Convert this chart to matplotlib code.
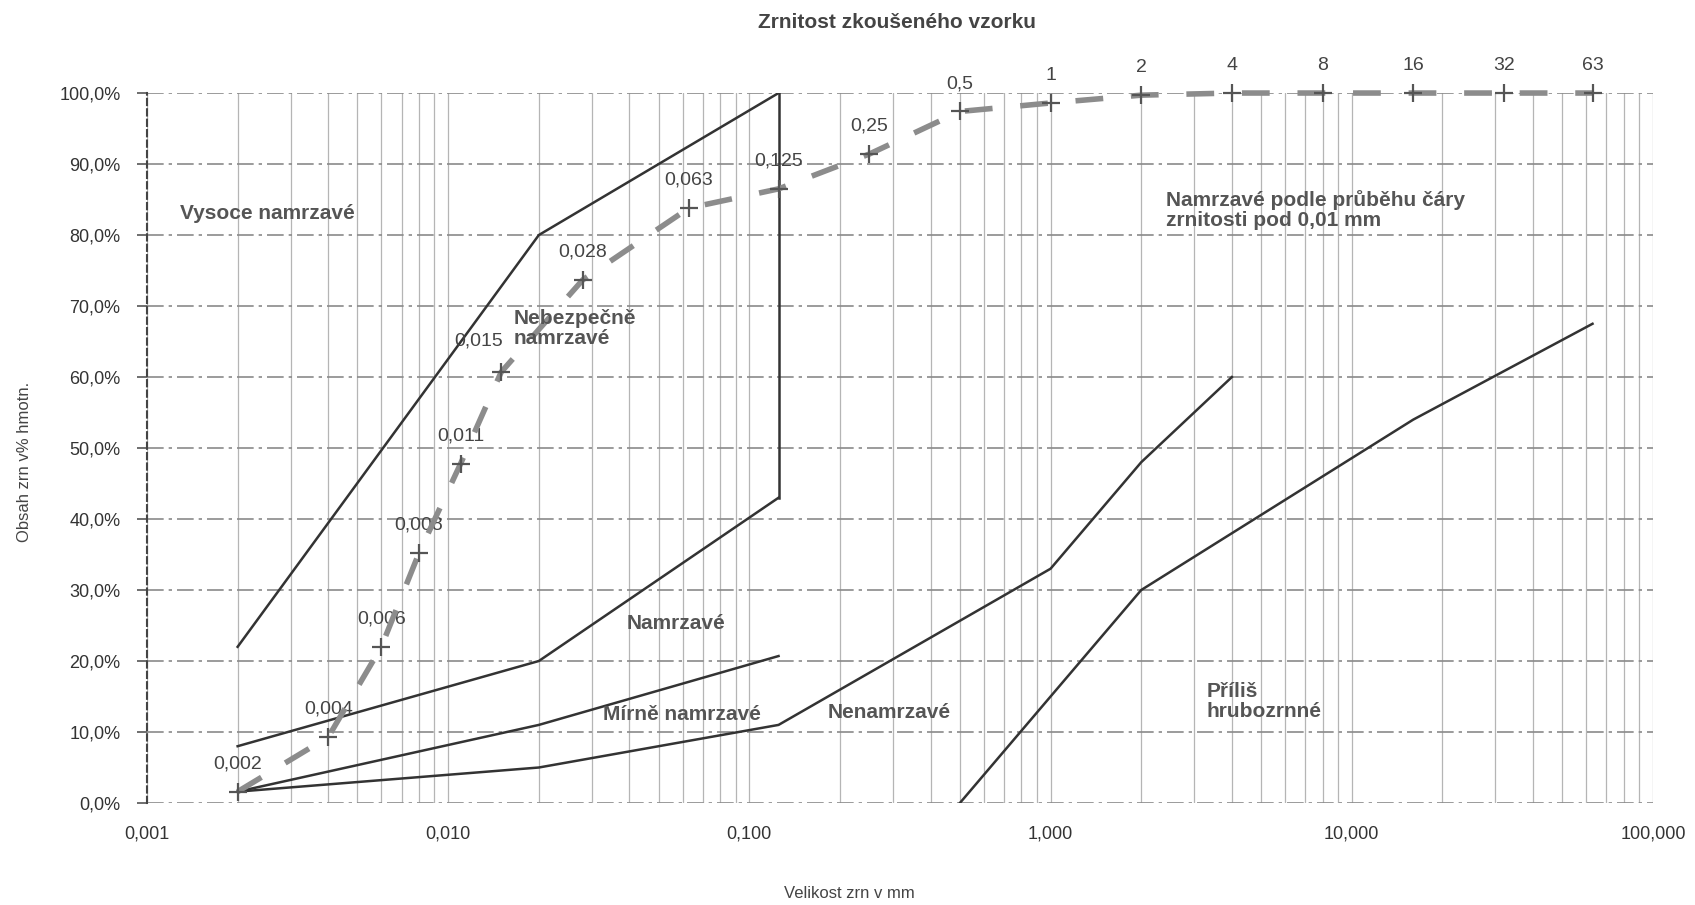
import numpy as np
import matplotlib.pyplot as plt
from matplotlib.ticker import FixedLocator, FuncFormatter, LogLocator, NullFormatter

plt.rcParams['font.family'] = ['Liberation Sans', 'DejaVu Sans']

# hranice oblasti namrzavosti (velikost zrn v mm, obsah v %)
vysoce_x = [0.002, 0.02, 0.125]
vysoce_y = [22, 80, 100]
svisla_x = [0.125, 0.125]
svisla_y = [43, 100]
nebezpecne_x = [0.002, 0.02, 0.125]
nebezpecne_y = [8, 20, 43]
namrzave_x = [0.002, 0.02, 0.125]
namrzave_y = [1.6, 11, 20.7]
mirne_x = [0.002, 0.02, 0.125, 1, 2, 4]
mirne_y = [1.6, 5, 11, 33, 48, 60]
hrubo_x = [0.5, 1, 2, 16, 63]
hrubo_y = [0, 15, 30, 54, 67.5]

# krivka zrnitosti zkouseneho vzorku
zrna = [0.002, 0.004, 0.006, 0.008, 0.011, 0.015, 0.028, 0.063, 0.125,
        0.25, 0.5, 1, 2, 4, 8, 16, 32, 63]
propad = [1.6, 9.3, 22.0, 35.2, 47.8, 60.7, 73.7, 83.8, 86.5,
          91.4, 97.4, 98.6, 99.7, 100, 100, 100, 100, 100]
popisky = ['0,002', '0,004', '0,006', '0,008', '0,011', '0,015', '0,028', '0,063', '0,125',
           '0,25', '0,5', '1', '2', '4', '8', '16', '32', '63']

x_ticks = [0.001, 0.01, 0.1, 1, 10, 100]
x_labels = ['0,001', '0,010', '0,100', '1,000', '10,000', '100,000']
y_ticks = np.arange(0, 101, 10)

fig = plt.figure(figsize=(16.95, 9.05), dpi=100)
ax = fig.add_axes([0.0867, 0.1127, 0.8885, 0.7845])
ax.set_xscale('log')
ax.set_xlim(0.001, 100)
ax.set_ylim(0, 100)

ax.xaxis.set_major_locator(FixedLocator(x_ticks))
ax.xaxis.set_major_formatter(FuncFormatter(lambda v, p: x_labels[x_ticks.index(v)] if v in x_ticks else ''))
ax.xaxis.set_minor_locator(LogLocator(base=10, subs=np.arange(2, 10)))
ax.xaxis.set_minor_formatter(NullFormatter())
ax.yaxis.set_major_locator(FixedLocator(y_ticks))
ax.yaxis.set_major_formatter(FuncFormatter(lambda v, p: ('%.1f%%' % v).replace('.', ',')))

ax.tick_params(axis='x', which='both', length=0, pad=16, labelsize=13, labelcolor='#333')
ax.tick_params(axis='y', length=7, width=1.2, color='#555', pad=12, labelsize=13, labelcolor='#333')

ax.grid(True, axis='x', which='both', color='#b5b5b5', lw=0.9)
ax.grid(True, axis='y', which='major', color='#8a8a8a', lw=1.2, ls=(0, (10, 3, 2, 3)))
for s in ['top', 'right', 'bottom']:
    ax.spines[s].set_visible(False)
ax.spines['left'].set_linestyle((0, (3, 2)))
ax.spines['left'].set_color('#444')
ax.spines['left'].set_linewidth(1.5)

# hranice
for xs, ys in [(vysoce_x, vysoce_y), (svisla_x, svisla_y), (nebezpecne_x, nebezpecne_y),
               (namrzave_x, namrzave_y), (mirne_x, mirne_y), (hrubo_x, hrubo_y)]:
    ax.plot(xs, ys, color='#333', lw=1.8, zorder=3)

# krivka vzorku
ax.plot(zrna, propad, color='#8c8c8c', lw=4, ls=(0, (5, 5)), zorder=4, clip_on=False)
ax.plot(zrna, propad, ls='none', marker='+', ms=13, mew=1.6, color='#555', zorder=5, clip_on=False)
for xv, yv, t in zip(zrna, propad, popisky):
    off = (-16, 22) if t == '0,015' else (0, 20)
    ax.annotate(t, (xv, yv), xytext=off, textcoords='offset points',
                ha='center', va='center', fontsize=14, color='#444', annotation_clip=False)

# popisy oblasti
kw = dict(fontsize=15, fontweight='bold', color='#555', va='center', ha='left', zorder=6)
ax.text(0.00129, 83.1, 'Vysoce namrzavé', **kw)
ax.text(0.0165, 66.8, 'Nebezpečně\nnamrzavé', linespacing=1.1, **kw)
ax.text(0.0392, 25.3, 'Namrzavé', **kw)
ax.text(0.0327, 12.5, 'Mírně namrzavé', **kw)
ax.text(0.182, 12.7, 'Nenamrzavé', **kw)
ax.text(3.3, 14.3, 'Příliš\nhrubozrnné', linespacing=1.1, **kw)
ax.text(2.42, 83.5, 'Namrzavé podle průběhu čáry\nzrnitosti pod 0,01 mm', linespacing=1.1, **kw)

fig.text(897 / 1695, 1 - 22 / 905, 'Zrnitost zkoušeného vzorku', ha='center', va='center',
         fontsize=15, fontweight='bold', color='#444')
fig.text(849 / 1695, 1 - 893 / 905, 'Velikost zrn v mm', ha='center', va='center',
         fontsize=12, color='#444')
fig.text(25 / 1695, 1 - 462 / 905, 'Obsah zrn v% hmotn.', ha='center', va='center',
         rotation=90, fontsize=12, color='#444')

fig.savefig('out.png', dpi=100)
